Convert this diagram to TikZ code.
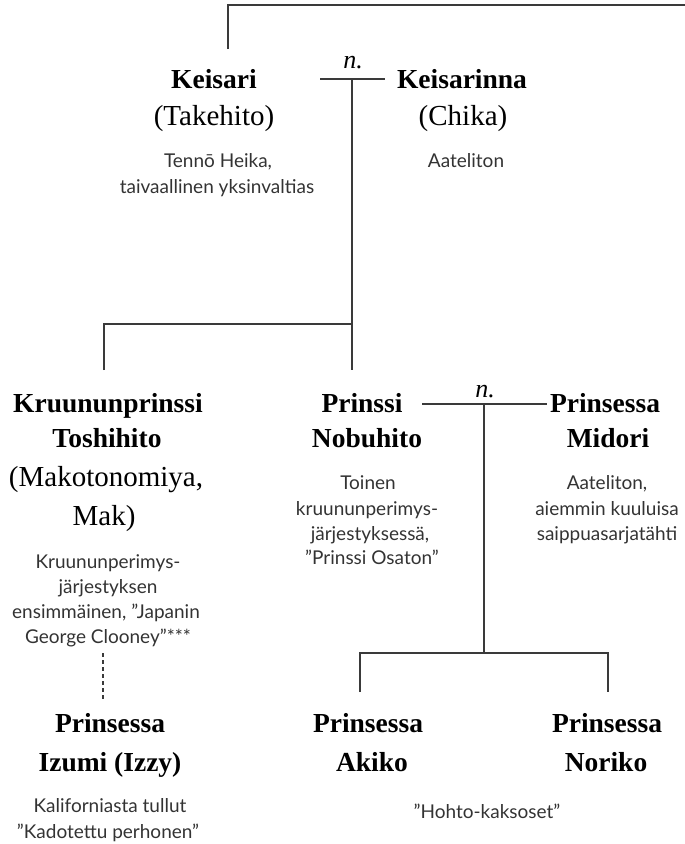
\documentclass[tikz,border=0pt]{standalone}
\usepackage{fontspec}
\setmainfont{Liberation Serif}
\newfontfamily\descfont{Lato}
\definecolor{linec}{HTML}{3A3A3A}
\definecolor{descc}{HTML}{333333}
\tikzset{
  nm/.style={anchor=base, inner sep=0pt, font=\fontsize{27.5}{30}\selectfont\bfseries},
  al/.style={anchor=base, inner sep=0pt, font=\fontsize{29}{32}\selectfont},
  ds/.style={anchor=base, inner sep=0pt, text=descc, font=\descfont\fontsize{19}{22}\selectfont},
  nn/.style={anchor=base, inner sep=0pt, font=\fontsize{26}{28}\selectfont\itshape},
  ln/.style={draw=linec, line width=1.2pt},
  dln/.style={draw=linec, line width=1.2pt, dash pattern=on 4pt off 3pt}
}
\begin{document}
\begin{tikzpicture}[x=1pt,y=-1pt]
\useasboundingbox (0,0) rectangle (685,844);
% --- generation 1
\node[nm] (keisari) at (214,88) {Keisari};
\node[al] (takehito) at (214,125) {(Takehito)};
\node[ds] (kd1) at (218,167) {Tennō Heika,};
\node[ds] (kd2) at (217,193) {taivaallinen yksinvaltias};
\node[nm] (keisarinna) at (462,88) {Keisarinna};
\node[al] (chika) at (463,125) {(Chika)};
\node[ds] (cd1) at (466,167) {Aateliton};
\node[nn] (n1) at (353,68) {n.};
% --- generation 2
\node[nm] (kp1) at (108,412) {Kruununprinssi};
\node[nm] (kp2) at (107,447) {Toshihito};
\node[al] (kp3) at (106,486) {(Makotonomiya,};
\node[al] (kp4) at (104,525) {Mak)};
\node[ds] (kpd1) at (108,568) {Kruununperimys-};
\node[ds] (kpd2) at (108,593) {järjestyksen};
\node[ds] (kpd3) at (106,618) {ensimmäinen, ”Japanin};
\node[ds] (kpd4) at (108,643) {George Clooney”***};
\node[nm] (pn1) at (362,412) {Prinssi};
\node[nm] (pn2) at (367,447) {Nobuhito};
\node[ds] (pnd1) at (368,489) {Toinen};
\node[ds] (pnd2) at (367,515) {kruununperimys-};
\node[ds] (pnd3) at (370,540) {järjestyksessä,};
\node[ds] (pnd4) at (372,564.5) {”Prinssi Osaton”};
\node[nm] (pm1) at (605,412) {Prinsessa};
\node[nm] (pm2) at (608,447) {Midori};
\node[ds] (pmd1) at (607,489) {Aateliton,};
\node[ds] (pmd2) at (607,515) {aiemmin kuuluisa};
\node[ds] (pmd3) at (607,540) {saippuasarjatähti};
\node[nn] (n2) at (485,397) {n.};
% --- generation 3
\node[nm] (iz1) at (110,732) {Prinsessa};
\node[nm] (iz2) at (110,771) {Izumi (Izzy)};
\node[ds] (izd1) at (110,812) {Kaliforniasta tullut};
\node[ds] (izd2) at (108,838) {”Kadotettu perhonen”};
\node[nm] (ak1) at (368,732) {Prinsessa};
\node[nm] (ak2) at (372,771) {Akiko};
\node[nm] (no1) at (607,732) {Prinsessa};
\node[nm] (no2) at (606,771) {Noriko};
\node[ds] (twins) at (487,818) {”Hohto-kaksoset”};
% --- connector points
\coordinate (topA) at (228,49);
\coordinate (topB) at (228,5);
\coordinate (topC) at (686,5);
\coordinate (m1L) at (320,79);
\coordinate (m1R) at (385,79);
\coordinate (m1) at (352,79);
\coordinate (j1) at (352,324);
\coordinate (j1L) at (104,324);
\coordinate (c1) at (104,370);
\coordinate (c2) at (352,370);
\coordinate (m2L) at (422,404);
\coordinate (m2R) at (547,404);
\coordinate (m2) at (484,404);
\coordinate (j2) at (484,653);
\coordinate (j2L) at (360,653);
\coordinate (j2R) at (608,653);
\coordinate (c3) at (360,692);
\coordinate (c4) at (608,692);
\coordinate (d1) at (103,653);
\coordinate (d2) at (103,700);
% --- connectors
\draw[ln] (topA) -- (topB) -- (topC);
\draw[ln] (m1L) -- (m1R);
\draw[ln] (m1) -- (c2);
\draw[ln] (c1) -- (j1L) -- (j1);
\draw[ln] (m2L) -- (m2R);
\draw[ln] (m2) -- (j2);
\draw[ln] (c3) -- (j2L) -- (j2R) -- (c4);
\draw[dln] (d1) -- (d2);
\end{tikzpicture}
\end{document}
